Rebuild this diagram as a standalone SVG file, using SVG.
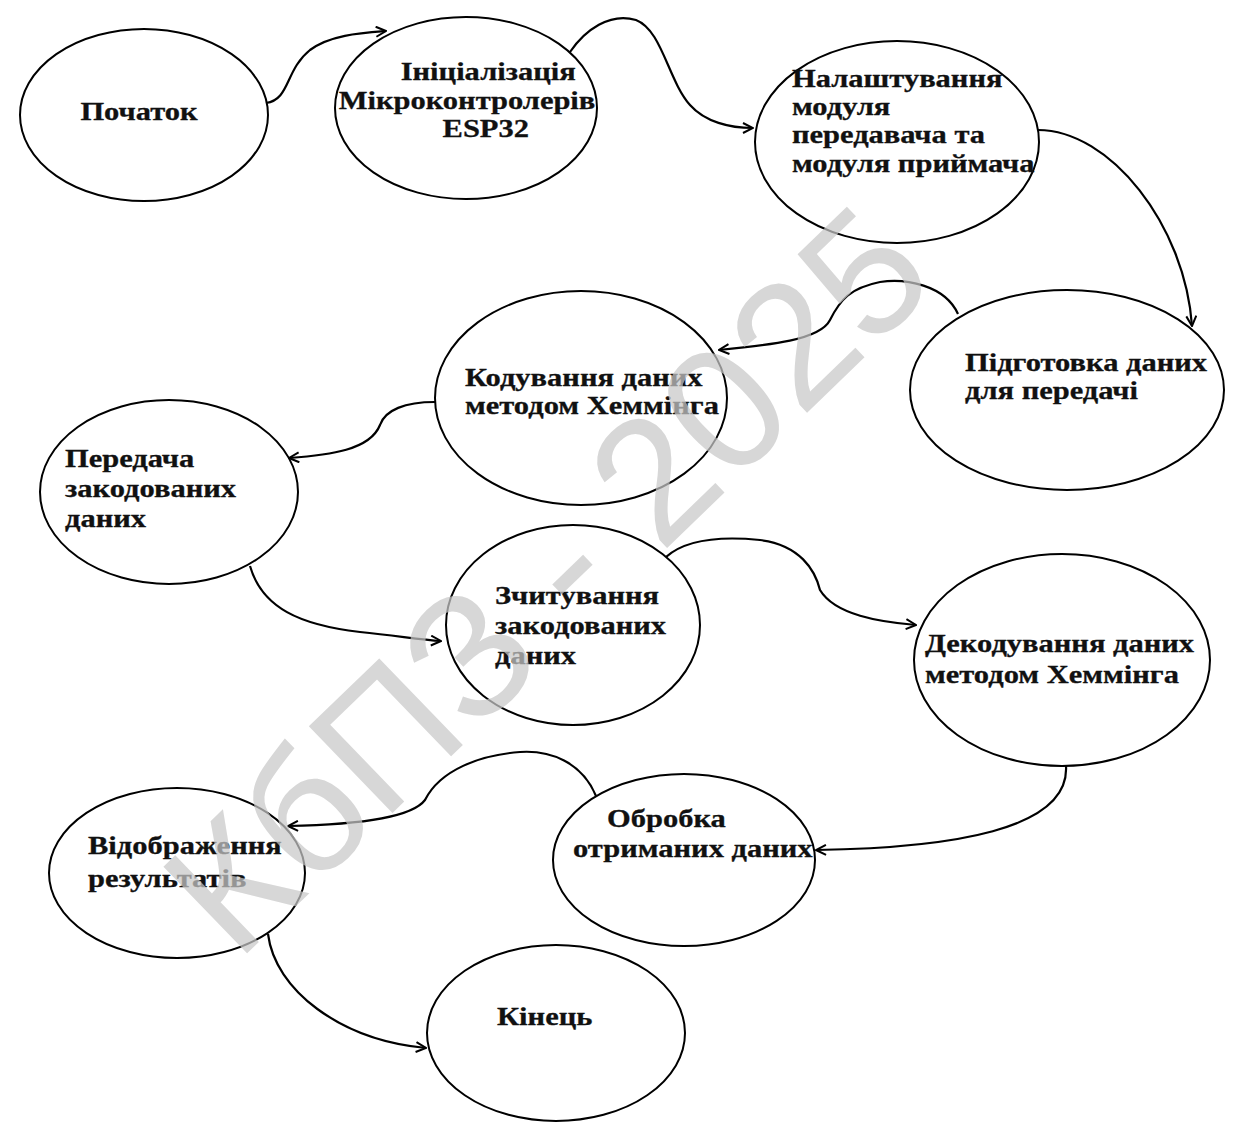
<svg xmlns="http://www.w3.org/2000/svg" width="1243" height="1131" viewBox="0 0 1243 1131">
<style>
.node ellipse{fill:#fff;stroke:#000;stroke-width:2}
.node text{font-family:"Liberation Serif","Times New Roman",serif;font-weight:bold;font-size:25px;fill:#111;stroke:#111;stroke-width:0.3}
.c{fill:none;stroke:#000;stroke-width:2.2}
.wm{font-family:"Liberation Sans",Arial,sans-serif;font-size:175px;fill:#c8c8c8;opacity:0.72}
</style>
<defs>
<marker id="arr" viewBox="0 0 12 12" refX="11" refY="6" markerWidth="12" markerHeight="12" markerUnits="userSpaceOnUse" orient="auto">
<path d="M1,1 L11,6 L1,11" fill="none" stroke="#000" stroke-width="2"/>
</marker>
</defs>
<rect width="1243" height="1131" fill="#fff"/>
<g id="n1" class="node"><ellipse cx="144" cy="115" rx="124" ry="86"/><text x="139" y="120" text-anchor="middle" transform="matrix(1.22 0 0 1 -30.58 0)">Початок</text></g>
<g id="n2" class="node"><ellipse cx="466" cy="108" rx="131" ry="91"/><text text-anchor="middle" transform="matrix(1.22 0 0 1 -107.14 0)"><tspan x="488" y="80">Ініціалізація</tspan><tspan x="470.6" y="109">Мікроконтролерів</tspan><tspan x="486" y="137">ESP32</tspan></text></g>
<g id="n3" class="node"><ellipse cx="897" cy="142" rx="142" ry="101"/><text transform="matrix(1.22 0 0 1 -174.24 0)"><tspan x="792" y="87">Налаштування</tspan><tspan x="792" y="115">модуля</tspan><tspan x="792" y="143">передавача та</tspan><tspan x="792" y="172">модуля приймача</tspan></text></g>
<g id="n4" class="node"><ellipse cx="1067" cy="390" rx="157" ry="100"/><text transform="matrix(1.22 0 0 1 -212.3 0)"><tspan x="965" y="371">Підготовка даних</tspan><tspan x="965" y="399">для передачі</tspan></text></g>
<g id="n5" class="node"><ellipse cx="581" cy="398" rx="146" ry="107"/><text transform="matrix(1.22 0 0 1 -102.3 0)"><tspan x="465" y="386">Кодування даних</tspan><tspan x="465" y="414">методом Хеммінга</tspan></text></g>
<g id="n6" class="node"><ellipse cx="169" cy="492" rx="129" ry="92"/><text transform="matrix(1.22 0 0 1 -14.3 0)"><tspan x="65" y="467">Передача</tspan><tspan x="65" y="497">закодованих</tspan><tspan x="65" y="527">даних</tspan></text></g>
<g id="n7" class="node"><ellipse cx="573" cy="625" rx="127" ry="100"/><text transform="matrix(1.22 0 0 1 -108.9 0)"><tspan x="495" y="604">Зчитування</tspan><tspan x="495" y="634">закодованих</tspan><tspan x="495" y="664">даних</tspan></text></g>
<g id="n8" class="node"><ellipse cx="1062" cy="660" rx="148" ry="106"/><text transform="matrix(1.22 0 0 1 -203.5 0)"><tspan x="925" y="652">Декодування даних</tspan><tspan x="925" y="683">методом Хеммінга</tspan></text></g>
<g id="n9" class="node"><ellipse cx="684" cy="860" rx="131" ry="86"/><text transform="matrix(1.22 0 0 1 -126.06 0)"><tspan x="600.9" y="827">Обробка</tspan><tspan x="573" y="857">отриманих даних</tspan></text></g>
<g id="n10" class="node"><ellipse cx="177" cy="873" rx="128" ry="85"/><text transform="matrix(1.22 0 0 1 -19.36 0)"><tspan x="88" y="854">Відображення</tspan><tspan x="88" y="887">результатів</tspan></text></g>
<g id="n11" class="node"><ellipse cx="556" cy="1033" rx="129" ry="88"/><text x="497" y="1025" transform="matrix(1.22 0 0 1 -109.34 0)">Кінець</text></g>
<g id="connectors">
<path class="c" marker-end="url(#arr)" d="M266,103 C290,100 285,70 310,50 C330,35 360,33 386,31"/>
<path class="c" marker-end="url(#arr)" d="M570,52 C585,30 610,12 636,20 C662,30 668,80 690,105 C705,122 730,128 753,128"/>
<path class="c" marker-end="url(#arr)" d="M1038,130 C1110,130 1185,225 1192,326"/>
<path class="c" marker-end="url(#arr)" d="M958,314 C945,285 905,278 880,282 C850,288 840,300 830,320 C820,340 770,345 719,350"/>
<path class="c" marker-end="url(#arr)" d="M435,402 C405,402 385,410 380,425 C370,450 330,455 289,458"/>
<path class="c" marker-end="url(#arr)" d="M250,566 C262,608 300,625 360,632 C400,636 420,640 441,641"/>
<path class="c" marker-end="url(#arr)" d="M666,557 C685,540 720,536 760,540 C800,545 815,570 820,590 C835,615 880,622 916,625"/>
<path class="c" marker-end="url(#arr)" d="M1066,766 C1070,830 950,848 816,850"/>
<path class="c" marker-end="url(#arr)" d="M596,796 C582,762 550,750 520,752 C480,755 440,770 425,800 C410,820 340,825 288,826"/>
<path class="c" marker-end="url(#arr)" d="M268,934 C275,990 340,1040 426,1048"/>
</g>
<text class="wm" x="545" y="641" text-anchor="middle" transform="rotate(-44 545 578)">КбПЗ - 2025</text>
</svg>
